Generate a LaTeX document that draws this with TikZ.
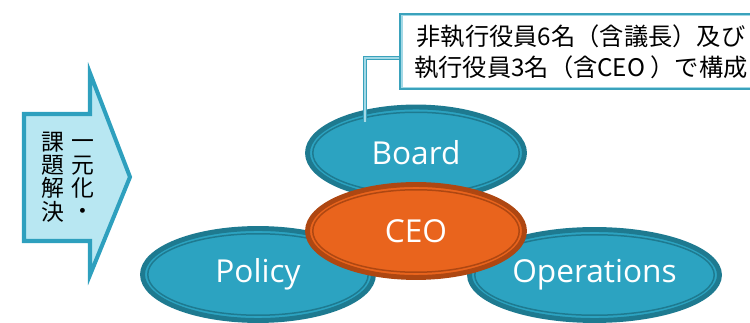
\documentclass[tikz,border=0pt]{standalone}
\usepackage{fontspec}
\setmainfont{Open Sans}
\newfontfamily\jpfont{Noto Sans CJK JP}
\usetikzlibrary{shapes.geometric}

\definecolor{tealfill}{HTML}{2CA3C1}
\definecolor{tealring}{HTML}{1E7A90}
\definecolor{orangefill}{HTML}{E9641D}
\definecolor{orangering}{HTML}{AE4712}
\definecolor{chevronfill}{HTML}{B8E7F2}
\definecolor{chevronline}{HTML}{2EA0BE}
\definecolor{noteline}{HTML}{3AA2BC}
\definecolor{notelight}{HTML}{A3D9E6}

\begin{document}
\begin{tikzpicture}[x=0.02cm, y=-0.02cm,
    bubble/.style={ellipse, draw=tealring, fill=tealfill, line width=2.8pt,
        inner sep=0pt, text=white, font=\fontsize{18}{20}\selectfont},
    ceobubble/.style={bubble, draw=orangering, fill=orangefill},
    innerring/.style={draw=tealring, line width=0.85pt},
    chevron/.style={draw=chevronline, fill=chevronfill, line width=2.3pt, line join=miter},
    column/.style={align=center, inner sep=0pt, font=\jpfont\fontsize{13}{13.3}\selectfont},
    notebox/.style={draw=noteline, fill=white, line width=2pt, inner sep=0pt,
        align=center, font=\jpfont\fontsize{13.8}{17.6}\selectfont},
    tether/.style={draw=noteline, double=notelight, line width=0.8pt, double distance=0.9pt}]

    \useasboundingbox (0,0) rectangle (750,323);
    \clip (0,0) rectangle (750,323);

    % The three outer bodies
    \node[bubble, minimum width=4.34cm, minimum height=1.84cm] (board) at (416,153) {Board};
    \draw[innerring] (board.center) ellipse [x radius=2.065cm, y radius=0.815cm];

    \node[bubble, minimum width=4.62cm, minimum height=1.84cm] (policy) at (258,274.5) {Policy};
    \draw[innerring] (policy.center) ellipse [x radius=2.205cm, y radius=0.815cm];

    \node[bubble, minimum width=5.0cm, minimum height=1.82cm] (ops) at (594.5,275) {Operations};
    \draw[innerring] (ops.center) ellipse [x radius=2.395cm, y radius=0.805cm];

    % CEO sits on top of the others
    \node[ceobubble, minimum width=4.34cm, minimum height=1.86cm] (ceo) at (416,231) {CEO};
    \draw[innerring, orangering] (ceo.center) ellipse [x radius=2.065cm, y radius=0.825cm];

    % Callout for the board
    \coordinate (pin) at (365,122);
    \node[notebox, minimum width=7.2cm, minimum height=1.48cm] (note) at (581,51.5)
        {非執行役員6名（含議長）及び\\執行役員3名（含CEO ）で構成};
    \draw[tether] ([yshift=-3.7pt]note.west) -| (pin);
    \draw[notelight, line width=0.85pt] ([shift={(1.6pt,-1.6pt)}]note.north west)
        rectangle ([shift={(-1.6pt,1.6pt)}]note.south east);

    % Arrow on the left
    \draw[chevron] (24,114) -- (90,114) -- (90,73) -- (130,177) -- (90,275)
        -- (90,241) -- (24,241) -- cycle;
    \node[column] (unify) at (83,180) {一\\元\\化\\・};
    \node[column] (solve) at (53,177) {課\\題\\解\\決};
\end{tikzpicture}
\end{document}
